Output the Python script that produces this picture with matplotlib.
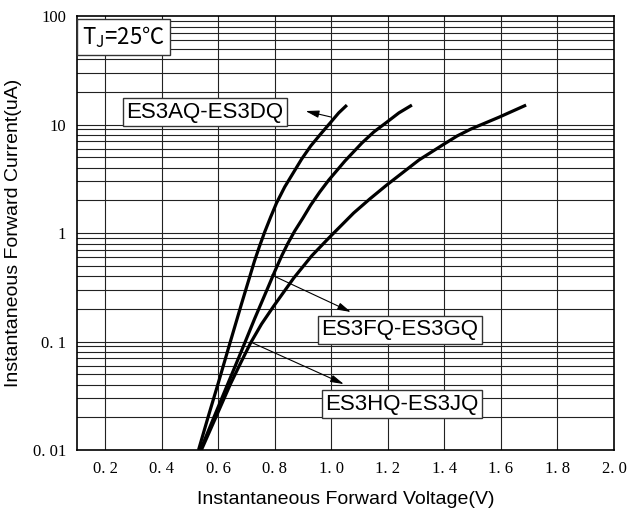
import matplotlib
matplotlib.use("Agg")
import matplotlib.pyplot as plt
import numpy as np

# Data (V, uA)
v_ad = [0.530, 0.565, 0.601, 0.636, 0.682, 0.728, 0.746, 0.764, 0.785, 0.806, 0.835, 0.867,
        0.895, 0.927, 0.962, 0.998, 1.026, 1.055]
i_ad = [0.01, 0.0206, 0.0424, 0.0871, 0.222, 0.552, 0.758, 1.02, 1.40, 1.89, 2.66, 3.65,
        4.81, 6.34, 8.17, 10.5, 12.8, 15.1]

v_fg = [0.537, 0.579, 0.629, 0.679, 0.728, 0.778, 0.799, 0.824, 0.845, 0.870, 0.899, 0.927,
        0.959, 0.991, 1.048, 1.108, 1.150, 1.196, 1.239, 1.285]
i_fg = [0.01, 0.0185, 0.0381, 0.0784, 0.161, 0.325, 0.438, 0.614, 0.792, 1.04, 1.37, 1.81,
        2.39, 3.08, 4.61, 6.75, 8.53, 10.5, 12.8, 15.1]

v_hj = [0.540, 0.590, 0.643, 0.679, 0.714, 0.753, 0.796, 0.867, 0.930, 0.991, 1.079, 1.136,
        1.196, 1.310, 1.399, 1.445, 1.494, 1.594, 1.689]
i_hj = [0.01, 0.0197, 0.0406, 0.0634, 0.0968, 0.145, 0.212, 0.385, 0.614, 0.90, 1.53, 2.06,
        2.77, 4.71, 6.61, 7.84, 9.09, 11.7, 15.1]

x_ticks = [0.2, 0.4, 0.6, 0.8, 1.0, 1.2, 1.4, 1.6, 1.8, 2.0]
x_labels = ["0. 2", "0. 4", "0. 6", "0. 8", "1. 0", "1. 2", "1. 4", "1. 6", "1. 8", "2. 0"]
y_ticks = [0.01, 0.1, 1, 10, 100]
y_labels = ["0. 01", "0. 1", "1", "10", "100"]

fig = plt.figure(figsize=(6.3, 5.11), dpi=100)
ax = fig.add_axes([77/630, 1-450/511, (614-77)/630, (450-16)/511])
ax.set_yscale('log')
ax.set_xlim(0.1, 2.0)
ax.set_ylim(0.01, 100)

# grid
gcol = '#222222'
for xv in x_ticks[:-1]:
    ax.axvline(xv, color=gcol, lw=0.8, zorder=1)
for dec in [0.01, 0.1, 1, 10]:
    for m in range(1, 10):
        yv = dec * m
        if 0.01 < yv < 100:
            ax.axhline(yv, color=gcol, lw=0.8, zorder=1)

for vv, ii in [(v_ad, i_ad), (v_fg, i_fg), (v_hj, i_hj)]:
    ax.plot(vv, ii, color='black', lw=2.3, zorder=3, solid_capstyle='butt',
            solid_joinstyle='round', clip_on=True)

ax.set_xticks(x_ticks)
ax.set_xticklabels(x_labels, fontfamily='Liberation Serif', fontsize=12)
ax.set_yticks(y_ticks)
ax.set_yticklabels(y_labels, fontfamily='Liberation Serif', fontsize=12)
ax.yaxis.set_minor_locator(matplotlib.ticker.NullLocator())
ax.tick_params(axis='both', length=0, pad=8)
for s in ax.spines.values():
    s.set_linewidth(1.2)

ax.set_xlabel("Instantaneous Forward Voltage(V)", fontfamily='Liberation Sans', fontsize=14, labelpad=10)
ax.set_ylabel("Instantaneous Forward Current(uA)", fontfamily='Liberation Sans', fontsize=14)
ax.yaxis.set_label_coords(-0.102, 0.5)

bbox = dict(boxstyle='square,pad=0.15', fc='white', ec='#333333', lw=1.0)
bbox_t = dict(boxstyle='square,pad=0.22', fc='white', ec='#333333', lw=1.0)
ax.text(0.118, 64, r'T$_\mathregular{J}$=25℃', fontsize=16, family='Noto Sans CJK SC',
        va='center', ha='left', bbox=bbox_t, zorder=4)
ax.text(0.553, 13.0, 'ES3AQ-ES3DQ', fontsize=16, family='Liberation Sans',
        va='center', ha='center', bbox=bbox, zorder=4)
ax.text(1.243, 0.128, 'ES3FQ-ES3GQ', fontsize=16, family='Liberation Sans',
        va='center', ha='center', bbox=bbox, zorder=4)
ax.text(1.25, 0.0265, 'ES3HQ-ES3JQ', fontsize=16, family='Liberation Sans',
        va='center', ha='center', bbox=bbox, zorder=4)

arrow = dict(arrowstyle='-|>,head_length=0.8,head_width=0.22', lw=0.8, color='black',
             mutation_scale=10, shrinkA=0, shrinkB=0)
ax.annotate('', xy=(0.909, 13.3), xytext=(1.0, 11.7), arrowprops=arrow, zorder=5)
ax.annotate('', xy=(1.069, 0.187), xytext=(0.789, 0.41), arrowprops=arrow, zorder=5)
ax.annotate('', xy=(1.044, 0.0405), xytext=(0.714, 0.099), arrowprops=arrow, zorder=5)

fig.savefig('out.png', dpi=100)
